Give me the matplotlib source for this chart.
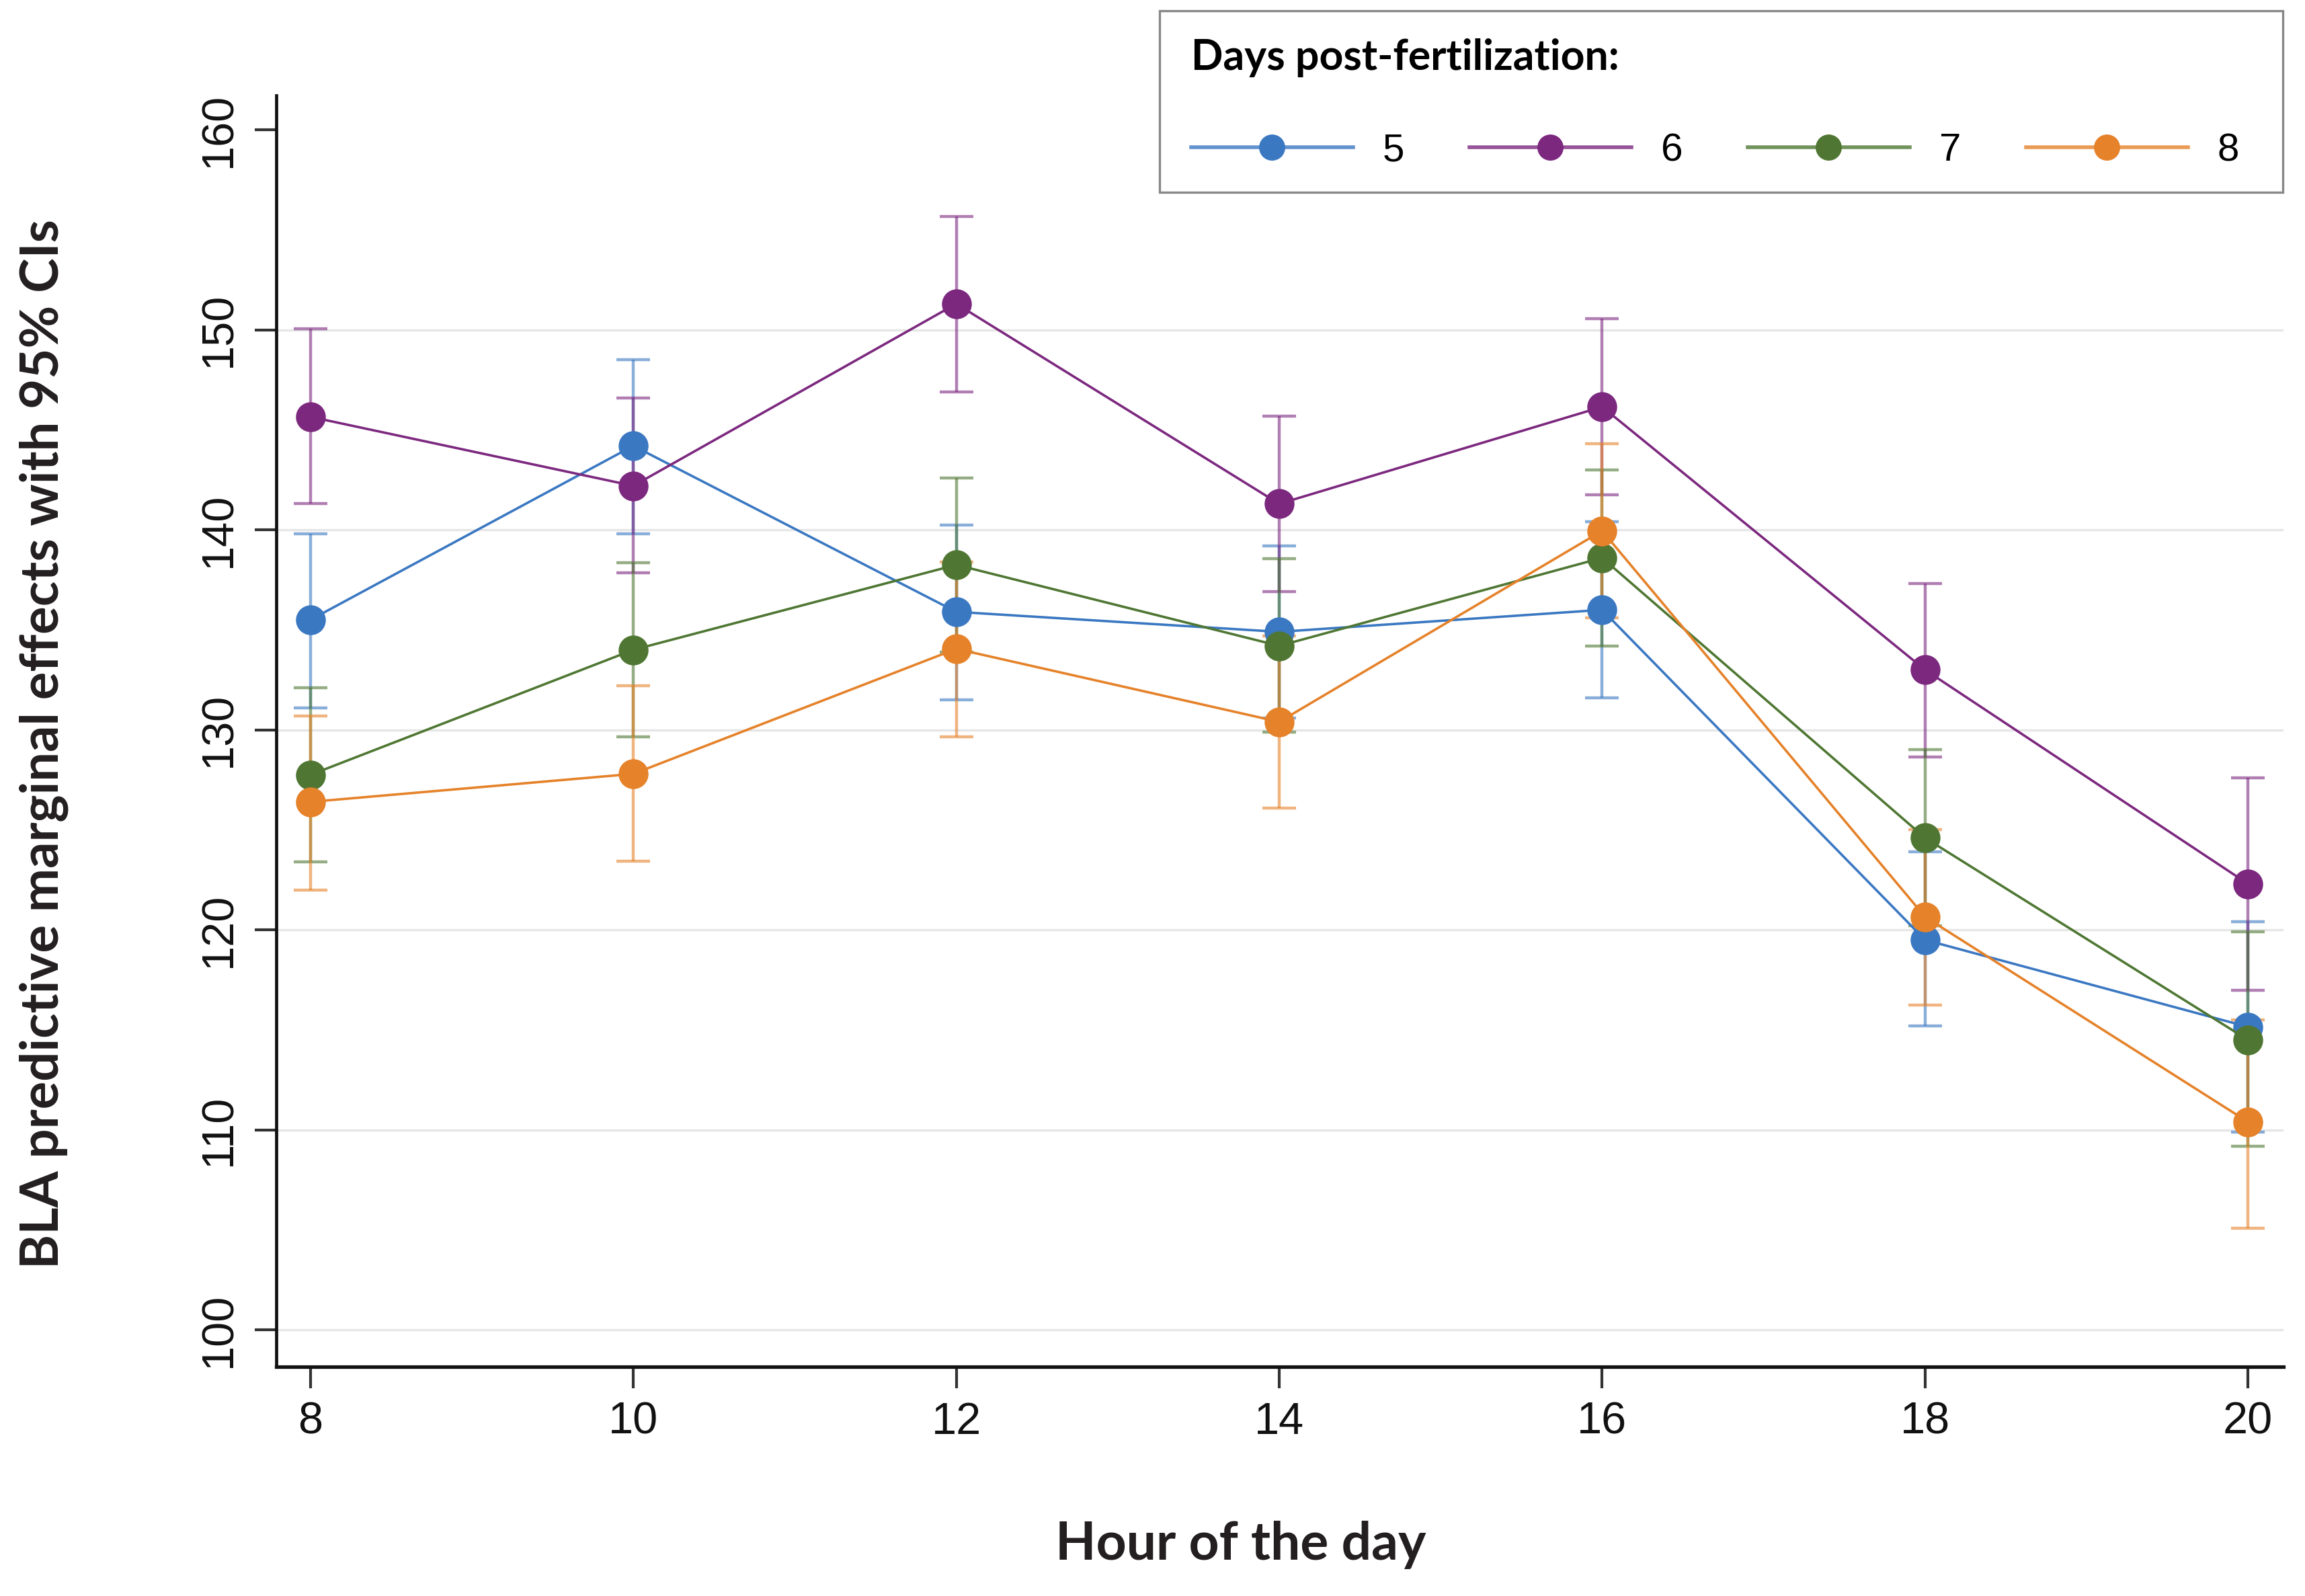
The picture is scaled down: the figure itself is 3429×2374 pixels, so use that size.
import matplotlib
matplotlib.use("Agg")
import matplotlib.pyplot as plt
from matplotlib.lines import Line2D
from matplotlib.patches import Rectangle
from matplotlib.colors import to_rgba

# ---------------- data ----------------
hours = [8, 10, 12, 14, 16, 18, 20]
series_labels = ["5", "6", "7", "8"]

mean_5 = [135.5, 144.2, 135.9, 134.9, 136.0, 119.5, 115.15]
upper_5 = [139.8, 148.5, 140.25, 139.2, 140.4, 123.9, 120.4]
lower_5 = [131.1, 139.8, 131.5, 130.6, 131.6, 115.2, 109.9]

mean_6 = [145.65, 142.2, 151.3, 141.3, 146.15, 133.0, 122.3]
upper_6 = [150.05, 146.6, 155.65, 145.67, 150.55, 137.3, 127.6]
lower_6 = [141.3, 137.85, 146.9, 136.9, 141.75, 128.65, 116.97]

mean_7 = [127.75, 134.0, 138.25, 134.2, 138.6, 124.6, 114.5]
upper_7 = [132.1, 138.35, 142.6, 138.55, 143.0, 129.0, 119.9]
lower_7 = [123.4, 129.65, 133.9, 129.9, 134.2, 120.2, 109.2]

mean_8 = [126.4, 127.8, 134.05, 130.4, 139.95, 120.65, 110.4]
upper_8 = [130.7, 132.2, 138.4, 134.7, 144.3, 125.0, 115.5]
lower_8 = [122.0, 123.45, 129.65, 126.1, 135.6, 116.25, 105.1]

y_ticks = [100, 110, 120, 130, 140, 150, 160]
x_ticks = hours

colors = ["#3B78C2", "#7C287F", "#4F7733", "#E5822A"]
means = [mean_5, mean_6, mean_7, mean_8]
uppers = [upper_5, upper_6, upper_7, upper_8]
lowers = [lower_5, lower_6, lower_7, lower_8]

# ---------------- figure ----------------
DPI = 200
fig = plt.figure(figsize=(3430 / DPI, 2374 / DPI), dpi=DPI)
ax = fig.add_axes([0.1199, 0.1435, 0.8705, 0.7965])

tick_font = "Liberation Sans"
label_font = "Lato"

for m, up, lo, c in zip(means, uppers, lowers, colors):
    yerr = [[mi - li for mi, li in zip(m, lo)], [ui - mi for mi, ui in zip(m, up)]]
    ax.errorbar(hours, m, yerr=yerr, fmt="none", ecolor=c, elinewidth=1.6,
                capsize=9, capthick=1.6, alpha=0.6, zorder=2)
for m, c in zip(means, colors):
    ax.plot(hours, m, color=c, lw=1.3, marker="o", markersize=16,
            markeredgewidth=0, zorder=3)

ax.set_xlim(7.79, 20.22)
ax.set_ylim(98.15, 161.7)
ax.set_xticks(x_ticks)
ax.set_xticklabels([str(h) for h in x_ticks], fontsize=24, family=tick_font,
                   color="#111111")
ax.set_yticks(y_ticks)
ax.set_yticklabels([str(v) for v in y_ticks], fontsize=24, family=tick_font,
                   rotation=90, va="center", color="#111111")

ax.spines["top"].set_visible(False)
ax.spines["right"].set_visible(False)
ax.spines["left"].set_linewidth(1.7)
ax.spines["bottom"].set_linewidth(1.9)
ax.spines["left"].set_color("#111111")
ax.spines["bottom"].set_color("#111111")
ax.tick_params(axis="x", length=11.5, width=1.5, color="#333333", pad=7)
ax.tick_params(axis="y", length=11.5, width=1.5, color="#333333", pad=8)

ax.set_axisbelow(True)
ax.grid(axis="y", color="#e6e6e6", lw=1.2)
ax.get_ygridlines()[-1].set_visible(False)

fig.text(0.019, 0.534, "BLA predictive marginal effects with 95% CIs",
         rotation=90, ha="center", va="center", fontsize=28,
         fontweight="bold", family=label_font, color="#231f20")
fig.text(0.538, 0.032, "Hour of the day", ha="center", va="center",
         fontsize=28.3, fontweight="bold", family=label_font, color="#231f20")

# legend frame
fig.patches.append(Rectangle((0.503, 0.8795), 0.487, 0.1138,
                             transform=fig.transFigure, facecolor="white",
                             edgecolor="#888888", linewidth=1.2, zorder=5))

handles = [Line2D([], [], color=to_rgba(c, 0.8), lw=2.0, marker="o",
                  markersize=14, markeredgewidth=0,
                  markerfacecolor=c) for c in colors]
leg = fig.legend(handles, series_labels, ncol=4, loc="upper left",
                 bbox_to_anchor=(0.5165, 0.9762), frameon=False,
                 borderpad=0, borderaxespad=0, handlelength=4.14,
                 handletextpad=0.75, columnspacing=1.65,
                 labelspacing=1.42, prop={"family": tick_font, "size": 21},
                 title="Days post-fertilization:", alignment="left",
                 title_fontproperties={"family": label_font, "weight": "bold",
                                       "size": 22.5})
leg.set_zorder(6)

fig.savefig("out.png", dpi=DPI)
